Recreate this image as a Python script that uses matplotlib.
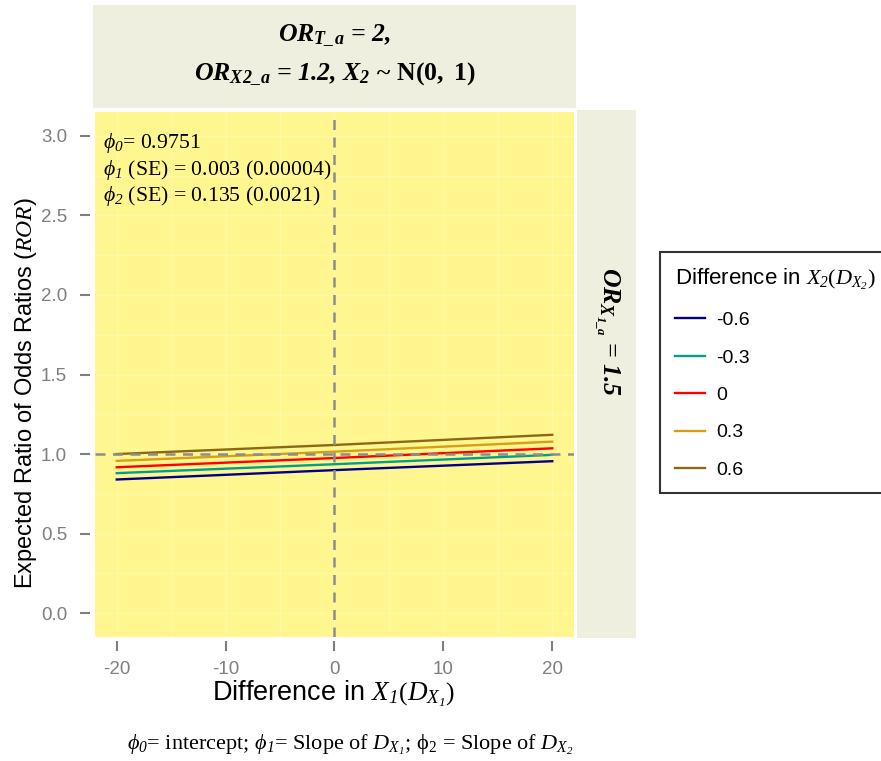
import numpy as np
import matplotlib
matplotlib.use("Agg")
import matplotlib.pyplot as plt
from matplotlib.lines import Line2D

plt.rcParams["font.family"] = ["Liberation Sans", "DejaVu Sans"]
plt.rcParams["mathtext.fontset"] = "custom"
plt.rcParams["mathtext.rm"] = "Liberation Serif"
plt.rcParams["mathtext.it"] = "Liberation Serif:italic"
plt.rcParams["mathtext.bf"] = "Liberation Serif:bold"
plt.rcParams["mathtext.bfit"] = "Liberation Serif:italic:bold"
# \mathsf slot used for italic digits in subscripts
plt.rcParams["mathtext.sf"] = "Liberation Serif:italic"

# expected ROR at D_X1 = -20, 0, 20 for each D_X2 level
dx1 = [-20, 0, 20]
dx2_levels = ["-0.6", "-0.3", "0", "0.3", "0.6"]
ror_m06 = [0.840, 0.899, 0.955]
ror_m03 = [0.880, 0.936, 0.995]
ror_0 = [0.917, 0.975, 1.036]
ror_p03 = [0.957, 1.015, 1.078]
ror_p06 = [1.000, 1.057, 1.121]
line_colors = ["#00008B", "#009E8E", "#FF0000", "#D4A017", "#8B6914"]

xticks = [-20, -10, 0, 10, 20]
yticks = [0.0, 0.5, 1.0, 1.5, 2.0, 2.5, 3.0]

W, H = 881, 761
fig = plt.figure(figsize=(W / 100, H / 100), dpi=100)


def box(x0, y0, x1, y1):
    # pixel box (top-left origin) -> figure fraction rect
    return [x0 / W, 1 - y1 / H, (x1 - x0) / W, (y1 - y0) / H]


ax = fig.add_axes(box(95, 112, 574, 637))
ax.set_facecolor("#FFF68F")
ax.set_xlim(-22, 22)
ax.set_ylim(-0.15, 3.15)

# faint panel grid
for y in np.arange(0, 3.01, 0.25):
    ax.axhline(y, color="#FFF8A8", lw=0.8, zorder=0)
for x in np.arange(-20, 21, 5):
    ax.axvline(x, color="#FFF8A8", lw=0.8, zorder=0)

series = [ror_m06, ror_m03, ror_0, ror_p03, ror_p06]
handles = []
for vals, col, lab in zip(series, line_colors, dx2_levels):
    ax.plot(dx1, vals, color=col, lw=1.7, zorder=2)
    handles.append(Line2D([], [], color=col, lw=1.7, label=lab))

ax.axhline(1.0, color="#8C8C8C", lw=1.8, ls=(0, (4, 3)), zorder=3)
ax.axvline(0.0, color="#8C8C8C", lw=1.8, ls=(0, (4, 3)), zorder=3)

ax.set_xticks(xticks)
ax.set_xticklabels([str(t) for t in xticks])
ax.set_yticks(yticks)
ax.set_yticklabels(["%.1f" % t for t in yticks])
for s in ax.spines.values():
    s.set_visible(False)
ax.spines["left"].set_position(("outward", 3.5))
ax.spines["bottom"].set_position(("outward", 3))
ax.tick_params(axis="both", length=7.5, width=1.5, color="#7F7F7F",
               labelcolor="#7F7F7F", labelsize=13.5)
ax.tick_params(axis="y", pad=9)
ax.tick_params(axis="x", pad=7)

stats_txt = [r"$\phi_\mathsf{0}$= 0.9751",
             r"$\phi_\mathsf{1}$ (SE) = 0.003 (0.00004)",
             r"$\phi_\mathsf{2}$ (SE) = 0.135 (0.0021)"]
for i, t in enumerate(stats_txt):
    fig.text(103 / W, 1 - (143 + 26.5 * i) / H, t, family="Liberation Serif",
             fontsize=15.7, ha="left", va="center")

# facet strips
top = fig.add_axes(box(93, 5, 576, 108))
top.set_facecolor("#EFEFE0")
top.set_xticks([])
top.set_yticks([])
for s in top.spines.values():
    s.set_visible(False)
top.text(0.5, 0.71, r"OR$_{\mathbfit{T\_a}}$ = 2,", transform=top.transAxes,
         family="Liberation Serif", style="italic", weight="bold", fontsize=18.5,
         ha="center", va="center")
top.text(0.5, 0.33, r"OR$_{\mathbfit{X2\_a}}$ = 1.2, X$_{\mathbfit{2}}$ ~ $\mathbf{N(0,\ 1)}$",
         transform=top.transAxes, family="Liberation Serif", style="italic",
         weight="bold", fontsize=18.5, ha="center", va="center")

right = fig.add_axes(box(577, 110, 636, 638))
right.set_facecolor("#EFEFE0")
right.set_xticks([])
right.set_yticks([])
for s in right.spines.values():
    s.set_visible(False)
right.text(0.5, 0.58, r"OR$_{\mathbfit{X_{1\_a}}}$ = 1.5", transform=right.transAxes,
           family="Liberation Serif", style="italic", weight="bold", fontsize=18.5,
           ha="center", va="center", rotation=270)

# axis titles and footnote
fig.text(334 / W, 1 - 694 / H, r"Difference in $X_\mathsf{1}\left(D_{X_\mathsf{1}}\right)$",
         fontsize=19.5, ha="center", va="center")
fig.text(26 / W, 1 - 393 / H, r"Expected Ratio of Odds Ratios ($ROR$)",
         fontsize=17, ha="center", va="center", rotation=90)
fig.text(350 / W, 1 - 745 / H,
         r"$\phi_\mathsf{0}$= intercept; $\phi_\mathsf{1}$= Slope of $D_{X_\mathsf{1}}$; "
         r"$\mathrm{\phi}_2$ = Slope of $D_{X_\mathsf{2}}$",
         family="Liberation Serif", fontsize=16, ha="center", va="center")

leg = fig.legend(handles=handles, title=r"Difference in $X_\mathsf{2}(D_{X_\mathsf{2}})$",
                 loc="upper left", bbox_to_anchor=(660 / W, 1 - 252 / H),
                 bbox_transform=fig.transFigure, fontsize=14, title_fontsize=16,
                 frameon=True, fancybox=False, handlelength=1.55, handletextpad=0.6,
                 labelspacing=1.02, borderpad=0.75, borderaxespad=0, alignment="left")
leg.get_frame().set_edgecolor("black")
leg.get_frame().set_linewidth(1.5)

fig.savefig("out.png", dpi=100)
